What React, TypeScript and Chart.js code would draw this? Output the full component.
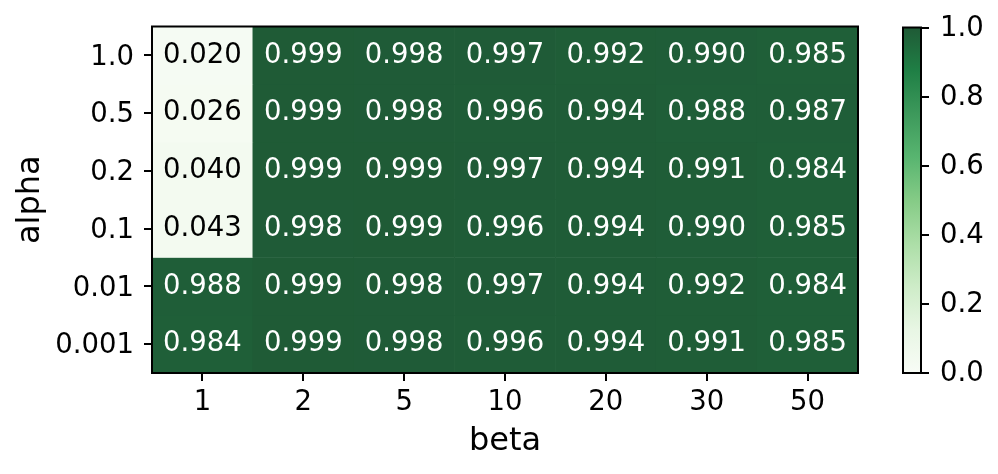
import React, { useEffect, useRef } from 'react';
import { Chart, registerables } from 'chart.js';

Chart.register(...registerables);

const betas = ['1', '2', '5', '10', '20', '30', '50'];
const alphas = ['1.0', '0.5', '0.2', '0.1', '0.01', '0.001'];

const alpha_1_0 = [0.020, 0.999, 0.998, 0.997, 0.992, 0.990, 0.985];
const alpha_0_5 = [0.026, 0.999, 0.998, 0.996, 0.994, 0.988, 0.987];
const alpha_0_2 = [0.040, 0.999, 0.999, 0.997, 0.994, 0.991, 0.984];
const alpha_0_1 = [0.043, 0.998, 0.999, 0.996, 0.994, 0.990, 0.985];
const alpha_0_01 = [0.988, 0.999, 0.998, 0.997, 0.994, 0.992, 0.984];
const alpha_0_001 = [0.984, 0.999, 0.998, 0.996, 0.994, 0.991, 0.985];

const rows = [alpha_1_0, alpha_0_5, alpha_0_2, alpha_0_1, alpha_0_01, alpha_0_001];

const colorbarTicks = [0, 0.2, 0.4, 0.6, 0.8, 1.0];

const GREENS = ['#f7fcf5', '#e5f5e0', '#c7e9c0', '#a1d99b', '#74c476', '#41ab5d', '#238b45', '#006d2c', '#00441b'];
const CELL_ALPHA = 0.88;
const FONT = '"DejaVu Sans", sans-serif';
const TICK_SIZE = 27.5;
const LABEL_SIZE = 32;

function hexToRgb(h: string) {
  const n = parseInt(h.slice(1), 16);
  return [(n >> 16) & 255, (n >> 8) & 255, n & 255];
}

function greens(v: number) {
  const t = Math.max(0, Math.min(1, v)) * 8;
  const i = Math.min(7, Math.floor(t));
  const f = t - i;
  const a = hexToRgb(GREENS[i]);
  const b = hexToRgb(GREENS[i + 1]);
  const c = a.map((x, k) => x + (b[k] - x) * f).map((x) => Math.round(x * CELL_ALPHA + 255 * (1 - CELL_ALPHA)));
  return `rgb(${c[0]},${c[1]},${c[2]})`;
}

const cellText = {
  id: 'cellText',
  afterDatasetsDraw(chart: any) {
    const ctx = chart.ctx;
    ctx.save();
    ctx.font = `${TICK_SIZE}px ${FONT}`;
    ctx.textAlign = 'center';
    ctx.textBaseline = 'middle';
    chart.data.datasets.forEach((ds: any, di: number) => {
      const meta = chart.getDatasetMeta(di);
      meta.data.forEach((el: any, j: number) => {
        const v = ds.values[j];
        const p = el.getProps(['x', 'y', 'base'], true);
        ctx.fillStyle = v < 0.5 ? '#000' : '#fff';
        ctx.fillText(v.toFixed(3), p.x, (p.y + p.base) / 2);
      });
    });
    ctx.restore();
  },
};

const frame = {
  id: 'frame',
  afterDraw(chart: any) {
    const { left, right, top, bottom } = chart.chartArea;
    const ctx = chart.ctx;
    ctx.save();
    ctx.strokeStyle = '#000';
    ctx.lineWidth = 2;
    ctx.strokeRect(left, top, right - left, bottom - top);
    ctx.restore();
  },
};

export default function App() {
  const mainRef = useRef<HTMLCanvasElement>(null);
  const cbRef = useRef<HTMLCanvasElement>(null);

  useEffect(() => {
    Chart.defaults.color = '#000';
    Chart.defaults.font.family = FONT;

    const datasets = rows.map((vals, i) => {
      const r = rows.length - 1 - i;
      return {
        label: alphas[i],
        values: vals,
        data: vals.map(() => [r, r + 1]),
        backgroundColor: vals.map((v) => greens(v)),
        borderWidth: 0,
        barPercentage: 1,
        categoryPercentage: 1,
        grouped: false,
      } as any;
    });

    const main = new Chart(mainRef.current!, {
      type: 'bar',
      data: { labels: betas, datasets },
      plugins: [cellText, frame],
      options: {
        animation: false,
        responsive: false,
        devicePixelRatio: 1,
        layout: { padding: { top: 26, right: 140, left: 0, bottom: 0 } },
        plugins: { legend: { display: false }, tooltip: { enabled: false } },
        scales: {
          x: {
            type: 'category',
            grid: { display: true, drawOnChartArea: false, offset: false, tickLength: 8, color: '#000', lineWidth: 2 },
            border: { display: false },
            ticks: { font: { size: TICK_SIZE }, padding: 5, maxRotation: 0, autoSkip: false },
            title: { display: true, text: 'beta', font: { size: LABEL_SIZE }, padding: { top: 0, bottom: 13 } },
            afterFit: (s: any) => { s.height = 101; },
          },
          y: {
            type: 'linear',
            min: 0,
            max: rows.length,
            grid: { display: true, drawOnChartArea: false, tickLength: 8, color: '#000', lineWidth: 2 },
            border: { display: false },
            afterBuildTicks: (s: any) => {
              s.ticks = alphas.map((_, i) => ({ value: i + 0.5 }));
            },
            ticks: {
              font: { size: TICK_SIZE },
              padding: 10,
              labelOffset: 2,
              callback: (v: any) => alphas[rows.length - 1 - Math.floor(Number(v))],
            },
            title: { display: true, text: 'alpha', font: { size: LABEL_SIZE }, padding: { top: 11, bottom: 0 } },
            afterFit: (s: any) => { s.width = 152; },
          },
        },
      } as any,
    });

    const cb = new Chart(cbRef.current!, {
      type: 'bar',
      data: {
        labels: [''],
        datasets: [
          {
            data: [[0, 1]] as any,
            backgroundColor: (c: any) => {
              const chart = c.chart;
              if (!chart.chartArea) return '#fff';
              const ys = chart.scales.y;
              const g = chart.ctx.createLinearGradient(0, ys.getPixelForValue(0), 0, ys.getPixelForValue(1));
              GREENS.forEach((_, i) => g.addColorStop(i / 8, greens(i / 8)));
              return g;
            },
            borderWidth: 0,
            barPercentage: 1,
            categoryPercentage: 1,
          } as any,
        ],
      },
      plugins: [frame],
      options: {
        animation: false,
        responsive: false,
        devicePixelRatio: 1,
        layout: { padding: { top: 26, right: 0, left: 43, bottom: 101 } },
        plugins: { legend: { display: false }, tooltip: { enabled: false } },
        scales: {
          x: { display: false },
          y: {
            position: 'right',
            min: 0,
            max: 1,
            grid: { display: true, drawOnChartArea: false, tickLength: 8, color: '#000', lineWidth: 2 },
            border: { display: false },
            afterBuildTicks: (s: any) => {
              s.ticks = colorbarTicks.map((v) => ({ value: v }));
            },
            ticks: { font: { size: TICK_SIZE }, padding: 11, labelOffset: 1, callback: (v: any) => Number(v).toFixed(1) },
            afterFit: (s: any) => { s.width = 77; },
          },
        },
      } as any,
    });

    return () => {
      main.destroy();
      cb.destroy();
    };
  }, []);

  return (
    <div style={{ position: 'fixed', left: 0, top: 0, width: 998, height: 474, background: '#fff' }}>
      <canvas ref={mainRef} width={998} height={474} style={{ position: 'absolute', left: 0, top: 0, width: 998, height: 474 }} />
      <canvas ref={cbRef} width={138} height={474} style={{ position: 'absolute', left: 860, top: 0, width: 138, height: 474 }} />
    </div>
  );
}
